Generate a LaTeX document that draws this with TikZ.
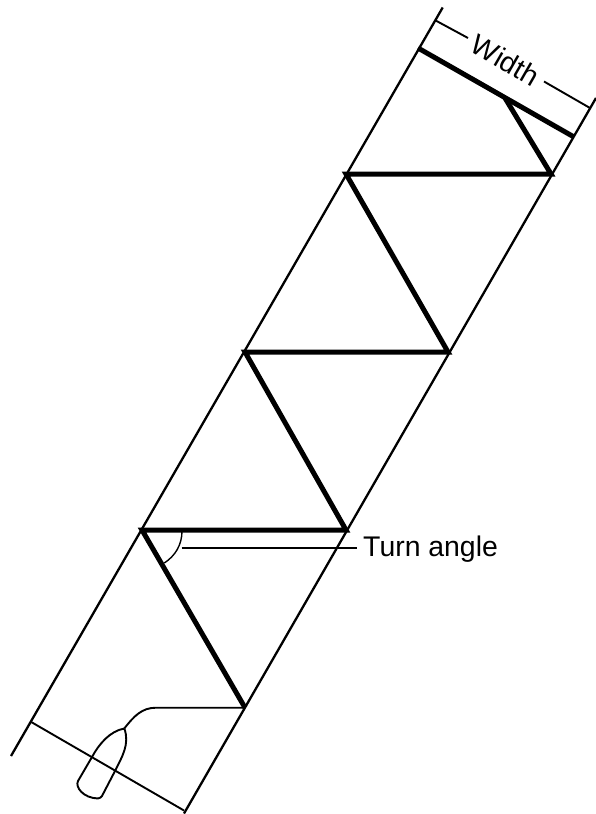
\documentclass[tikz,border=0pt]{standalone}
\usepackage{fontspec}
\setmainfont{Liberation Sans}
\tikzset{
  thinline/.style={line width=1.9pt,black},
  guideline/.style={line width=2.3pt,black},
  thickline/.style={line width=5pt,black,line join=miter},
  hairline/.style={line width=1.4pt,black},
  lab/.style={font=\fontsize{28.4}{32}\selectfont,inner sep=0pt,text=black}
}
\begin{document}
\begin{tikzpicture}[x=1pt,y=-1pt]
\useasboundingbox (0,0) rectangle (596,814);
% guide lines
\coordinate (la) at (11,756);
\coordinate (lb) at (442.7,7.5);
\coordinate (ra) at (184,813.5);
\coordinate (rb) at (596,98);
\draw[guideline] (la) -- (lb);
\draw[guideline] (ra) -- (rb);
% zigzag track
\coordinate (p1) at (245,707.7);
\coordinate (p2) at (142,530);
\coordinate (p3) at (346,530);
\coordinate (p4) at (245,352);
\coordinate (p5) at (448,352);
\coordinate (p6) at (346,174);
\coordinate (p7) at (551,174);
\coordinate (p8) at (505,98);
\coordinate (t1) at (418,48);
\coordinate (t2) at (574,137);
\draw[thickline] (p1) -- (p2) -- (p3) -- (p4) -- (p5) -- (p6) -- (p7) -- (p8);
\draw[thickline] (t1) -- (t2);
% width dimension
\coordinate (wa) at (436,20.7);
\coordinate (wb) at (468,38);
\coordinate (wc) at (544,81.5);
\coordinate (wd) at (590,108);
\draw[thinline] (wa) -- (wb);
\draw[thinline] (wc) -- (wd);
\node[lab,rotate=-30] (width) at (505.5,60) {Width};
% bottom dimension
\coordinate (ba) at (30.7,721.7);
\coordinate (bb) at (184,810.5);
\draw[thinline] (ba) -- (bb);
% boat
\coordinate (tip) at (124.3,728.5);
\draw[thinline,line join=round] (tip)
  .. controls (110,731) and (99,744) .. (92,757)
  -- (78,781)
  .. controls (75,787) and (83,798) .. (98,798.5)
  .. controls (100,798.5) and (101,797) .. (102,796)
  -- (115,771)
  .. controls (122,757) and (130,744) .. (tip);
% wake
\draw[thinline] (tip) .. controls (134,716) and (142,707.7) .. (156,707.7) -- (p1);
% turn angle
\coordinate (ang1) at (182,531);
\coordinate (ang2) at (164.3,563);
\draw[hairline] (ang1) .. controls (182,545) and (175,556) .. (ang2);
\node[lab,anchor=west] (turn) at (363,549) {Turn angle};
\coordinate (lead) at (181.7,547.7);
\draw[thinline] (lead) -- (357,547.7);
\end{tikzpicture}
\end{document}
